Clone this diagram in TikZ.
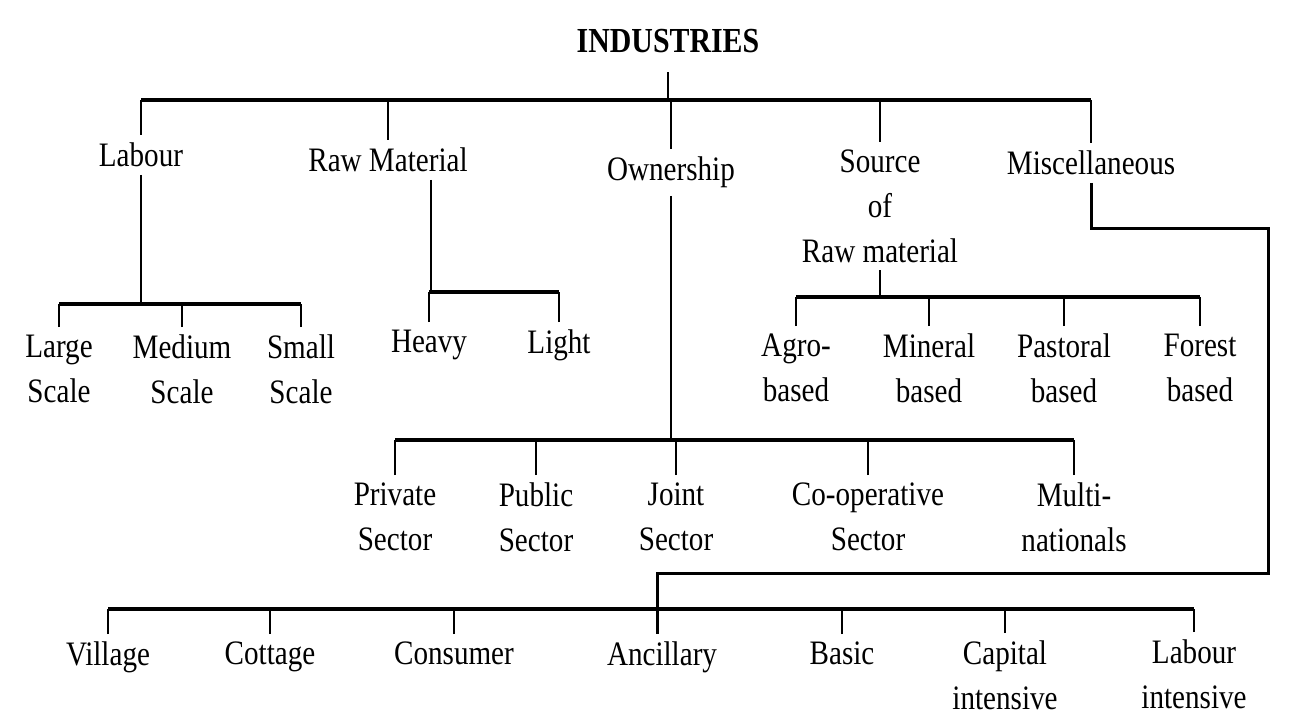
\documentclass[tikz,border=0pt]{standalone}
\usepackage{fontspec}
\setmainfont{Liberation Serif}[FakeStretch=0.85]
\usetikzlibrary{calc}
\begin{document}
\begin{tikzpicture}[x=0.02cm,y=-0.02cm,
  lbl/.style={anchor=north,align=center,inner sep=0pt,outer sep=4.5pt,
    font=\fontsize{19.5}{25.5}\selectfont},
  bus/.style={line width=2.2pt},
  drop/.style={line width=1.3pt}]
\useasboundingbox (0,0) rectangle (1295,718);

% first level
\node[lbl,anchor=south,outer sep=11pt,font=\fontsize{20}{25.5}\selectfont\bfseries] (title) at (668,72) {INDUSTRIES};
\node[lbl] (labour) at (141,135) {Labour};
\node[lbl] (rawmat) at (388,140) {Raw Material};
\node[lbl] (owner) at (671,149) {Ownership};
\node[lbl] (source) at (880,142) {Source\\of\\Raw material};
\node[lbl] (misc) at (1091,143) {Miscellaneous};

\coordinate (topbus) at (0,100);
\draw[drop] (title.south) -- (title.south |- topbus);
\draw[bus] (labour.north |- topbus) -- (misc.north |- topbus);
\foreach \n in {labour,rawmat,owner,source,misc}
  \draw[drop] (\n.north |- topbus) -- (\n.north);

% labour
\node[lbl] (large) at (59,327) {Large\\Scale};
\node[lbl] (medium) at (182,327) {Medium\\Scale};
\node[lbl] (small) at (301,327) {Small\\Scale};
\coordinate (lbus) at (0,304);
\draw[drop] (labour.south) -- (labour.south |- lbus);
\draw[bus] (large.north |- lbus) -- (small.north |- lbus);
\foreach \n in {large,medium,small}
  \draw[drop] (\n.north) -- (\n.north |- lbus);

% raw material
\node[lbl] (heavy) at (429,322) {Heavy};
\node[lbl] (light) at (559,322) {Light};
\coordinate (rbus) at (0,292);
\coordinate (rawdown) at ($(rawmat.south)+(43,0)$);
\draw[drop] (rawdown) -- (rawdown |- rbus);
\draw[bus] (heavy.north |- rbus) -- (light.north |- rbus);
\foreach \n in {heavy,light}
  \draw[drop] (\n.north) -- (\n.north |- rbus);

% source of raw material
\node[lbl] (agro) at (796,326) {Agro-\\based};
\node[lbl] (mineral) at (929,326) {Mineral\\based};
\node[lbl] (pastoral) at (1064,326) {Pastoral\\based};
\node[lbl] (forest) at (1200,326) {Forest\\based};
\coordinate (sbus) at (0,297);
\draw[drop] (source.south) -- (source.south |- sbus);
\draw[bus] (agro.north |- sbus) -- (forest.north |- sbus);
\foreach \n in {agro,mineral,pastoral,forest}
  \draw[drop] (\n.north) -- (\n.north |- sbus);

% ownership
\node[lbl] (private) at (395,475) {Private\\Sector};
\node[lbl] (public) at (536,475) {Public\\Sector};
\node[lbl] (joint) at (676,475) {Joint\\Sector};
\node[lbl] (coop) at (868,475) {Co-operative\\Sector};
\node[lbl] (multi) at (1074,475) {Multi-\\nationals};
\coordinate (obus) at (0,440);
\draw[drop] (owner.south) -- (owner.south |- obus);
\draw[bus] (private.north |- obus) -- (multi.north |- obus);
\foreach \n in {private,public,joint,coop,multi}
  \draw[drop] (\n.north) -- (\n.north |- obus);

% miscellaneous
\node[lbl] (village) at (108,634) {Village};
\node[lbl] (cottage) at (270,634) {Cottage};
\node[lbl] (consumer) at (454,634) {Consumer};
\node[lbl] (ancil) at (662,634) {Ancillary};
\node[lbl] (basic) at (842,634) {Basic};
\node[lbl] (capital) at (1005,633) {Capital\\intensive};
\node[lbl] (labint) at (1194,632) {Labour\\intensive};
\coordinate (mturn) at (1268,228);
\coordinate (mback) at (657,573);
\coordinate (bbus) at (0,609);
\draw[drop,line width=1.7pt] (misc.south) |- (mturn) |- (mback) -- (mback |- ancil.north);
\draw[bus] (village.north |- bbus) -- (labint.north |- bbus);
\foreach \n in {village,cottage,consumer,basic,capital,labint}
  \draw[drop] (\n.north) -- (\n.north |- bbus);
\end{tikzpicture}
\end{document}
